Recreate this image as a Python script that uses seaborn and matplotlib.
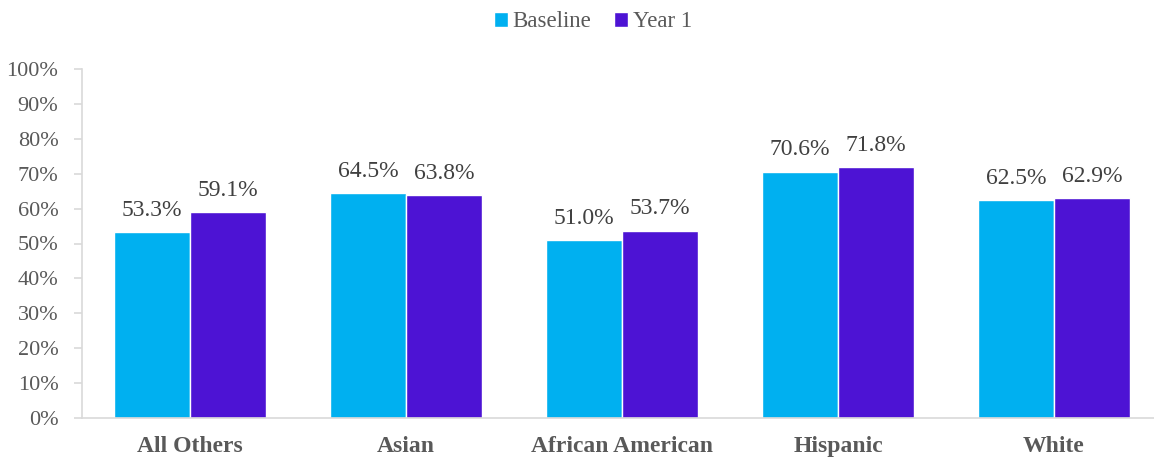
import matplotlib
matplotlib.use("Agg")
import matplotlib.pyplot as plt
import seaborn as sns
import pandas as pd

categories = ["All Others", "Asian", "African American", "Hispanic", "White"]
baseline = [53.3, 64.5, 51.0, 70.6, 62.5]
year1 = [59.1, 63.8, 53.7, 71.8, 62.9]
series_names = ["Baseline", "Year 1"]
yticks = [0, 10, 20, 30, 40, 50, 60, 70, 80, 90, 100]

sns.set_style("white")
plt.rcParams['font.family'] = ['Liberation Serif', 'DejaVu Serif']

df = pd.DataFrame({
    "Category": categories * 2,
    "Series": [series_names[0]] * len(categories) + [series_names[1]] * len(categories),
    "Value": baseline + year1,
})

colors = ["#00B0F0", "#4D13D4"]

fig = plt.figure(figsize=(11.54, 4.59), dpi=100)
ax = fig.add_axes([82 / 1154, 41 / 459, 1080 / 1154, 349 / 459])

sns.barplot(data=df, x="Category", y="Value", hue="Series", order=categories,
            hue_order=series_names, palette=colors, width=0.704, saturation=1,
            errorbar=None, ax=ax, legend=True)

ax.set_xlim(-0.5, 4.5)
ax.set_ylim(0, 100)
ax.set_yticks(yticks)
ax.set_yticklabels([f"{t}%" for t in yticks], fontsize=16, color="#595959")
ax.set_xticks(range(len(categories)))
ax.set_xticklabels(categories, fontsize=17, fontweight="bold", color="#595959")
ax.set_xlabel("")
ax.set_ylabel("")

for s in ["top", "right"]:
    ax.spines[s].set_visible(False)
for s in ["left", "bottom"]:
    ax.spines[s].set_color("#D9D9D9")
    ax.spines[s].set_linewidth(1.2)
ax.tick_params(axis="y", length=6, color="#D9D9D9", width=1.2, pad=11, left=True)
ax.tick_params(axis="x", length=0, pad=13)
ax.grid(False)

for container in ax.containers:
    for bar in container:
        h = bar.get_height()
        ax.annotate(f"{h:.1f}%", (bar.get_x() + bar.get_width() / 2, h),
                    xytext=(0, 8), textcoords="offset points",
                    ha="center", va="bottom", fontsize=17, color="#404040")

handles, labels = ax.get_legend_handles_labels()
ax.legend_.remove()
fig.legend(handles, labels, loc="upper center", bbox_to_anchor=(0.514, 1.02), ncol=2,
           frameon=False, fontsize=16.5, handlelength=0.6, handleheight=0.6,
           handletextpad=0.2, columnspacing=1.0, labelcolor="#595959")

fig.savefig("out.png", dpi=100)
